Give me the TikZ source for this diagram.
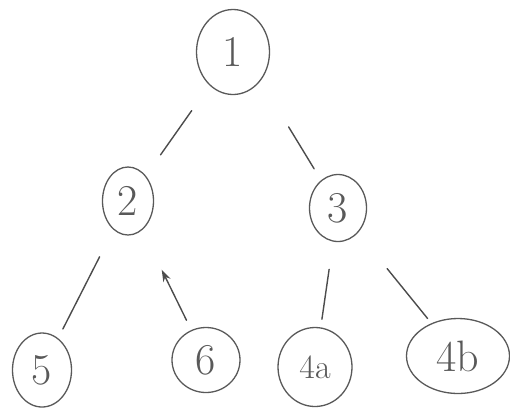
\documentclass[tikz,border=0pt]{standalone}
\usetikzlibrary{shapes.geometric,arrows.meta}
\begin{document}
\begin{tikzpicture}[x=1pt,y=-1pt,
  tnode/.style={ellipse,draw=black!65,line width=1.3pt,inner sep=0pt,text=black!65,
    font=\fontsize{44}{48}\selectfont},
  edge/.style={draw=black!70,line width=1.4pt,line cap=round}]
\useasboundingbox (0,0) rectangle (510,408);
\node[tnode,minimum width=73pt,minimum height=85pt] (n1) at (233,52) {1};
\node[tnode,minimum width=51pt,minimum height=68pt] (n2) at (128,201) {2};
\node[tnode,minimum width=57pt,minimum height=67pt] (n3) at (338,208) {3};
\node[tnode,minimum width=59pt,minimum height=74pt] (n5) at (42,370) {5};
\node[tnode,minimum width=68pt,minimum height=65pt] (n6) at (206,360) {6};
\node[tnode,minimum width=74pt,minimum height=79pt,font=\fontsize{34}{38}\selectfont] (n4a) at (315,367) {4a};
\node[tnode,minimum width=103pt,minimum height=75pt] (n4b) at (458,356) {4b};
\draw[edge,shorten <=71.7pt,shorten >=56.5pt] (n1.center) -- (n2.center);
\draw[edge,shorten <=87.7pt,shorten >=45.9pt] ([xshift=10pt]n1.center) -- (n3.center);
\draw[edge,shorten <=62.6pt,shorten >=46pt] (n2.center) -- (n5.center);
\draw[edge,{Stealth[length=12pt,width=8pt]}-,shorten <=76.5pt,shorten >=44.3pt] (n2.center) -- (n6.center);
\draw[edge,shorten <=62pt,shorten >=48.3pt] (n3.center) -- (n4a.center);
\draw[edge,shorten <=78pt,shorten >=48.3pt] (n3.center) -- (n4b.center);
\end{tikzpicture}
\end{document}
